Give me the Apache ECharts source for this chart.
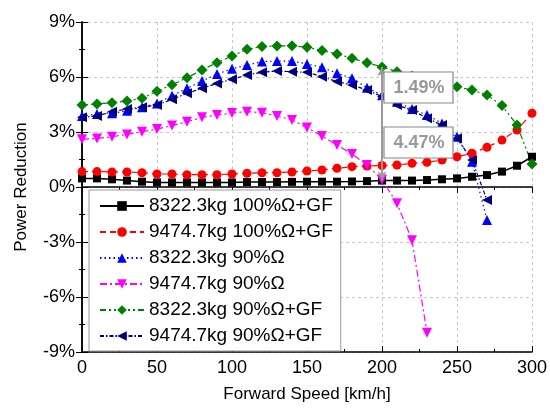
<!DOCTYPE html>
<html>
<head>
<meta charset="utf-8">
<script src="https://cdn.jsdelivr.net/npm/echarts@6/dist/echarts.min.js"></script>
<style>html,body{margin:0;padding:0;background:#fff}#chart{width:550px;height:409px}</style>
</head>
<body>
<div id="chart"></div>
<script>
// forward speed, km/h
var speed = [0,10,20,30,40,50,60,70,80,90,100,110,120,130,140,150,160,170,180,190,200,210,220,230,240,250,260,270,280,290,300];

var m1_100gf = [0.47,0.47,0.42,0.35,0.29,0.25,0.25,0.25,0.25,0.25,0.25,0.27,0.27,0.27,0.28,0.29,0.29,0.29,0.3,0.32,0.35,0.35,0.35,0.38,0.42,0.47,0.56,0.65,0.84,1.16,1.65];
var m2_100gf = [0.84,0.84,0.82,0.82,0.78,0.71,0.71,0.67,0.67,0.67,0.71,0.75,0.78,0.78,0.82,0.87,0.93,1.02,1.11,1.14,1.17,1.2,1.29,1.35,1.47,1.65,1.84,2.17,2.56,3.11,4.02];
var m1_90 = [3.87,3.98,4.02,4.16,4.35,4.56,4.98,5.38,5.78,6.16,6.45,6.65,6.84,6.87,6.87,6.71,6.53,6.2,5.93,5.42,5.0,4.65,4.25,3.93,3.47,2.74,1.38,-1.8];
var m2_90 = [2.6,2.65,2.74,2.87,3.02,3.16,3.35,3.56,3.8,3.93,4.03,4.11,4.05,3.87,3.66,3.24,2.78,2.29,1.8,1.2,0.4,-0.89,-2.9,-7.95];
var m1_90gf = [4.47,4.53,4.6,4.69,4.84,5.22,5.58,5.96,6.38,6.78,7.15,7.51,7.66,7.69,7.71,7.62,7.44,7.26,7.02,6.78,6.55,6.29,6.05,5.85,5.65,5.47,5.29,5.02,4.44,3.38,1.25];
var m2_90gf = [3.8,3.87,4.11,4.25,4.35,4.47,4.78,5.11,5.38,5.65,5.88,6.11,6.26,6.33,6.29,6.26,6.02,5.75,5.56,5.29,4.93,4.47,4.2,3.75,3.38,2.66,1.47,-0.71];

var names = ['8322.3kg 100%Ω+GF','9474.7kg 100%Ω+GF','8322.3kg 90%Ω','9474.7kg 90%Ω','8322.3kg 90%Ω+GF','9474.7kg 90%Ω+GF'];
var gaps = [1.49, 4.47];

function pairs(ys) {
    return ys.map(function (v, i) { return [speed[i], v]; });
}

var chart = echarts.init(document.getElementById('chart'));
var font = 'Liberation Sans, Arial, sans-serif';

var option = {
    backgroundColor: '#fff',
    animation: false,
    grid: { left: 82, right: 17, top: 22, bottom: 57 },
    legend: {
        orient: 'vertical',
        left: 89, top: 190,
        padding: [6, 8, 5, 10],
        backgroundColor: '#fff',
        borderColor: '#999',
        borderWidth: 1,
        itemWidth: 44, itemHeight: 12, itemGap: 6,
        textStyle: { fontFamily: font, fontSize: 19, color: '#000', lineHeight: 20 },
        data: names
    },
    xAxis: [{
        type: 'value', min: 0, max: 300, interval: 50,
        name: 'Forward Speed [km/h]', nameLocation: 'middle', nameGap: 34,
        nameTextStyle: { fontFamily: font, fontSize: 17, color: '#000' },
        axisLine: { onZero: false, lineStyle: { color: '#000', width: 1.5 } },
        axisTick: { inside: true, length: 6, lineStyle: { color: '#000' } },
        minorTick: { show: true, splitNumber: 2, length: 3, lineStyle: { color: '#000' } },
        axisLabel: { fontFamily: font, fontSize: 18, color: '#000', margin: 7 },
        splitLine: { lineStyle: { color: '#c8c8c8', type: [3, 3] } }
    }, {
        type: 'value', min: 0, max: 300, interval: 50, position: 'top',
        axisLine: { lineStyle: { color: '#000', width: 1.5 } },
        axisTick: { inside: true, length: 6, lineStyle: { color: '#000' } },
        minorTick: { show: true, splitNumber: 2, length: 3, lineStyle: { color: '#000' } },
        axisLabel: { show: false }, splitLine: { show: false }
    }],
    yAxis: [{
        type: 'value', min: -9, max: 9, interval: 3,
        name: 'Power Reduction', nameLocation: 'middle', nameGap: 52,
        nameTextStyle: { fontFamily: font, fontSize: 17, color: '#000' },
        axisLine: { onZero: false, lineStyle: { color: '#000', width: 1.5 } },
        axisTick: { inside: true, length: 6, lineStyle: { color: '#000' } },
        minorTick: { show: true, splitNumber: 2, length: 3, lineStyle: { color: '#000' } },
        axisLabel: { fontFamily: font, fontSize: 18, color: '#000', margin: 7, formatter: '{value}%' },
        splitLine: { lineStyle: { color: '#c8c8c8', type: [3, 3] } }
    }, {
        type: 'value', min: -9, max: 9, interval: 3, position: 'right',
        axisLine: { lineStyle: { color: '#000', width: 1.5 } },
        axisTick: { inside: true, length: 6, lineStyle: { color: '#000' } },
        minorTick: { show: true, splitNumber: 2, length: 3, lineStyle: { color: '#000' } },
        axisLabel: { show: false }, splitLine: { show: false }
    }],
    series: [
        {
            name: names[0], type: 'line', data: pairs(m1_100gf),
            symbol: 'rect', symbolSize: 8, color: '#000',
            lineStyle: { width: 1.5, type: 'solid' },
            markLine: {
                silent: true, symbol: ['arrow', 'arrow'], symbolSize: [7, 9],
                lineStyle: { color: '#999', width: 2, type: 'solid' },
                label: { show: false },
                data: [[{ coord: [200, 6.55] }, { coord: [200, 0.35] }]]
            }
        },
        {
            name: names[1], type: 'line', data: pairs(m2_100gf),
            symbol: 'circle', symbolSize: 9, color: '#ff0000',
            lineStyle: { width: 1.2, type: [6, 4] }
        },
        {
            name: names[2], type: 'line', data: pairs(m1_90),
            symbol: 'triangle', symbolSize: 10, color: '#0000ff',
            lineStyle: { width: 1.2, type: [1.5, 3] }
        },
        {
            name: names[3], type: 'line', data: pairs(m2_90),
            symbol: 'triangle', symbolRotate: 180, symbolSize: 10, color: '#ff00ff',
            lineStyle: { width: 1.2, type: [7, 3, 2, 3] }
        },
        {
            name: names[4], type: 'line', data: pairs(m1_90gf),
            symbol: 'diamond', symbolSize: 11, color: '#008000',
            lineStyle: { width: 1.2, type: [6, 3, 2, 3, 2, 3] }
        },
        {
            name: names[5], type: 'line', data: pairs(m2_90gf),
            symbol: 'triangle', symbolRotate: 90, symbolSize: 10, color: '#000080',
            lineStyle: { width: 1.2, type: [4, 2, 1.5, 2] }
        }
    ]
};
chart.setOption(option);

// labels for the two gaps at 200 km/h
var boxes = [[200, 72, gaps[0]], [200, 127, gaps[1]]];
var graphics = [];
boxes.forEach(function (b) {
    var x = chart.convertToPixel({ gridIndex: 0 }, [b[0], 0])[0] + 2;
    graphics.push({ type: 'rect', x: x, y: b[1], z: 100,
        shape: { x: 0, y: 0, width: 69, height: 31 },
        style: { fill: '#fff', stroke: '#888', lineWidth: 1.2 } });
    graphics.push({ type: 'text', x: x + 35, y: b[1] + 16, z: 101,
        style: { text: b[2].toFixed(2) + '%', font: 'bold 18px ' + font, fill: '#999',
                 align: 'center', verticalAlign: 'middle' } });
});
chart.setOption({ graphic: graphics });
</script>
</body>
</html>
